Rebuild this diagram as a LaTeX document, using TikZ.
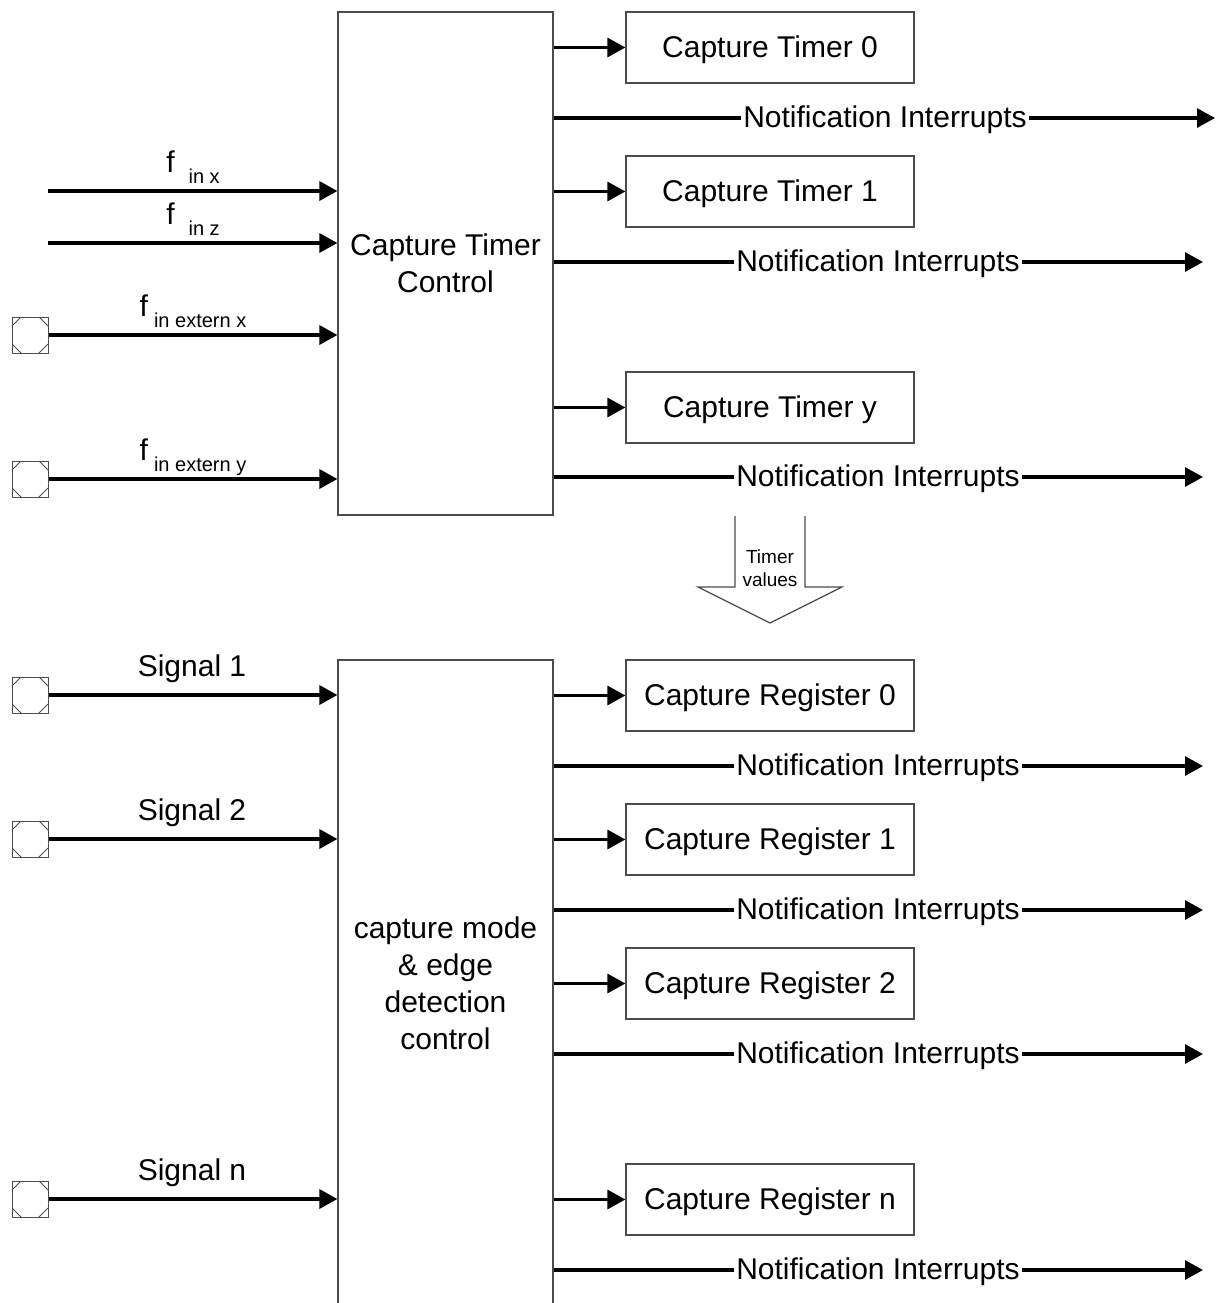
\documentclass[tikz,border=0pt]{standalone}
\usepackage{fontspec}
\setmainfont{Liberation Sans}
\usetikzlibrary{arrows.meta,positioning}

\begin{document}
\begin{tikzpicture}[x=0.5pt,y=-0.5pt,
  font=\fontsize{15}{18.5}\selectfont,
  ctlbox/.style={draw=black!70,line width=0.6pt,minimum width=107.5pt,align=center,inner sep=0pt},
  regbox/.style={draw=black!70,line width=0.6pt,minimum width=144pt,minimum height=35.5pt,inner sep=0pt,text depth=0.5pt},
  sig/.style={line width=1.6pt,-{Triangle[length=9pt,width=9.5pt]}},
  notelab/.style={fill=white,inner xsep=1pt,inner ysep=2pt},
  pinbox/.style={draw=black!70,line width=0.5pt,minimum size=18pt,inner sep=0pt,
    path picture={
      \draw[black!70,line width=0.5pt] ([xshift=4.5pt]path picture bounding box.north west) -- ([yshift=-4.5pt]path picture bounding box.north west);
      \draw[black!70,line width=0.5pt] ([xshift=-4.5pt]path picture bounding box.north east) -- ([yshift=-4.5pt]path picture bounding box.north east);
      \draw[black!70,line width=0.5pt] ([xshift=4.5pt]path picture bounding box.south west) -- ([yshift=4.5pt]path picture bounding box.south west);
      \draw[black!70,line width=0.5pt] ([xshift=-4.5pt]path picture bounding box.south east) -- ([yshift=4.5pt]path picture bounding box.south east);
    }},
  sublab/.style={anchor=base},
  ]
\useasboundingbox (0,0) rectangle (1217,1303);

% control blocks
\node[ctlbox,minimum height=251.5pt] (ctl) at (445.5,263.5) {Capture Timer\\Control};
\node[ctlbox,minimum height=323pt] (det) at (445.5,983) {capture mode\\\& edge\\detection\\control};

% timers and registers
\foreach \Y/\N/\T in {47.5/tm0/Capture Timer 0,191.5/tm1/Capture Timer 1,407.5/tmy/Capture Timer y} {
  \node[regbox] (\N) at (770,\Y) {\T};
  \draw[sig] (ctl.east |- \N) -- (\N.west);}
\foreach \Y/\N/\T in {695.5/rg0/Capture Register 0,839.5/rg1/Capture Register 1,983.5/rg2/Capture Register 2,1199.5/rgn/Capture Register n} {
  \node[regbox] (\N) at (770,\Y) {\T};
  \draw[sig] (det.east |- \N) -- (\N.west);}

% notification interrupts
\coordinate (nt0) at (1215,118);
\draw[sig] (ctl.east |- nt0) -- (nt0);
\node[notelab] (ntl0) at (885,119.5) {Notification Interrupts};
\foreach \Y/\N/\B in {262/nt1/ctl,477/nty/ctl,766/nr0/det,910/nr1/det,1054/nr2/det,1270/nrn/det} {
  \coordinate (\N) at (1203,\Y);
  \draw[sig] (\B.east |- \N) -- (\N);
  \node[notelab] (\N l) at (878,\Y+1.5) {Notification Interrupts};}

% clock inputs
\coordinate (fx) at (48,191);
\coordinate (fz) at (48,243);
\node[pinbox] (pex) at (30,335) {};
\node[pinbox] (pey) at (30,479) {};
\draw[sig] (fx) -- (fx -| ctl.west);
\draw[sig] (fz) -- (fz -| ctl.west);
\draw[sig] (pex.east) -- (pex.east -| ctl.west);
\draw[sig] (pey.east) -- (pey.east -| ctl.west);
\node[sublab] (lfx) at (193,172) {f\hspace{7pt}\raisebox{-5.5pt}{\fontsize{10}{12}\selectfont in x}};
\node[sublab] (lfz) at (193,224) {f\hspace{7pt}\raisebox{-5.5pt}{\fontsize{10}{12}\selectfont in z}};
\node[sublab] (lex) at (193,316) {f\hspace{3pt}\raisebox{-5.5pt}{\fontsize{10}{12}\selectfont in extern x}};
\node[sublab] (ley) at (193,460) {f\hspace{3pt}\raisebox{-5.5pt}{\fontsize{10}{12}\selectfont in extern y}};

% signal inputs
\foreach \Y/\N/\T in {695/ps1/Signal 1,839/ps2/Signal 2,1199/psn/Signal n} {
  \node[pinbox] (\N) at (30,\Y) {};
  \draw[sig] (\N.east) -- (\N.east -| det.west);
  \node[sublab] (\N l) at (192,\Y-19) {\T};}

% timer values arrow
\draw[draw=black!70,line width=0.6pt] (735,516) -- (735,587) -- (698,587) -- (770,623)
  -- (842,587) -- (805,587) -- (805,516);
\node[font=\fontsize{9.5}{11.5}\selectfont,align=center] (tval) at (770,568) {Timer\\values};
\end{tikzpicture}
\end{document}
